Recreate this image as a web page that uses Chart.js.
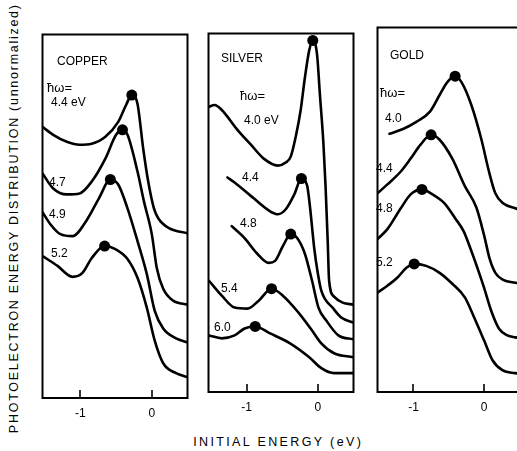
<!DOCTYPE html>
<html><head><meta charset="utf-8">
<script src="https://cdn.jsdelivr.net/npm/chart.js@4.4.1/dist/chart.umd.min.js"></script>
<style>
html,body{margin:0;padding:0;background:#fff;width:517px;height:451px;overflow:hidden;position:relative;font-family:"Liberation Sans",Arial,sans-serif;color:#000}
canvas{position:absolute}
.t{position:absolute;font-size:12px;line-height:14px;white-space:nowrap;color:#000}
.ttl{position:absolute;font-size:12.5px;line-height:14px;white-space:nowrap;color:#000}
</style></head><body>
<script>
// ---------- DATA (initial energy in eV, intensity in arbitrary units) ----------
const xTickValues = [-1, 0];

// COPPER, photon energies 4.4, 4.7, 4.9, 5.2 eV
const cuLabels = ["4.4 eV", "4.7", "4.9", "5.2"];
const cu44 = [[-1.53,273],[-1.38,265],[-1.19,258],[-1.01,255],[-0.84,256],[-0.65,263],[-0.47,278],[-0.36,295],[-0.28,305],[-0.20,296],[-0.12,251],[-0.05,218],[0.03,191],[0.09,181],[0.24,171],[0.50,166]];
const cu47 = [[-1.53,226],[-1.38,211],[-1.19,205],[-1.01,206],[-0.84,218],[-0.65,241],[-0.50,265],[-0.41,270],[-0.34,265],[-0.20,228],[-0.11,198],[0.00,165],[0.07,131],[0.16,110],[0.30,98],[0.50,94]];
const cu49 = [[-1.53,187],[-1.42,175],[-1.28,165],[-1.11,163],[-0.92,178],[-0.74,201],[-0.58,220],[-0.47,215],[-0.34,191],[-0.20,158],[-0.07,125],[0.04,88],[0.16,70],[0.34,60],[0.50,56]];
const cu52 = [[-1.53,143],[-1.32,133],[-1.11,122],[-0.97,126],[-0.84,141],[-0.66,153],[-0.51,150],[-0.34,140],[-0.20,121],[-0.07,91],[0.04,58],[0.16,35],[0.34,25],[0.50,21]];
const cuPeaks = [[-0.28,305],[-0.41,270],[-0.58,220],[-0.66,153]];

// SILVER, photon energies 4.0, 4.4, 4.8, 5.4, 6.0 eV
const agLabels = ["4.0 eV", "4.4", "4.8", "5.4", "6.0"];
const ag40 = [[-1.54,287],[-1.45,289],[-1.35,284],[-1.13,264],[-0.94,249],[-0.76,235],[-0.56,228],[-0.45,231],[-0.38,237],[-0.31,257],[-0.24,284],[-0.18,317],[-0.12,344],[-0.07,354],[-0.01,340],[0.03,300],[0.08,250],[0.11,207],[0.14,152],[0.16,112],[0.23,96],[0.35,90],[0.50,88]];
const ag44 = [[-1.27,216],[-1.17,211],[-0.90,195],[-0.67,182],[-0.56,179],[-0.45,184],[-0.33,199],[-0.23,215],[-0.15,208],[-0.11,187],[-0.05,145],[0.00,120],[0.05,102],[0.22,84],[0.33,75],[0.50,70]];
const ag48 = [[-1.21,167],[-1.03,155],[-0.86,140],[-0.69,130],[-0.60,132],[-0.49,147],[-0.38,159],[-0.29,155],[-0.18,139],[-0.08,112],[0.01,85],[0.12,72],[0.29,57],[0.50,53]];
const ag54 = [[-1.53,112],[-1.35,97],[-1.17,85],[-0.99,84],[-0.83,92],[-0.65,104],[-0.49,97],[-0.26,79],[-0.08,62],[0.05,49],[0.23,39],[0.50,35]];
const ag60 = [[-1.53,57],[-1.35,54],[-1.17,57],[-1.03,64],[-0.88,66],[-0.67,59],[-0.39,49],[-0.12,35],[0.05,24],[0.23,19],[0.50,19]];
const agPeaks = [[-0.07,354],[-0.23,215],[-0.38,159],[-0.65,104],[-0.88,66]];

// GOLD, photon energies 4.0, 4.4, 4.8, 5.2 eV
const auLabels = ["4.0", "4.4", "4.8", "5.2"];
const au40 = [[-1.34,260],[-1.14,265],[-0.96,272],[-0.77,282],[-0.63,299],[-0.52,312],[-0.41,318],[-0.32,312],[-0.18,289],[-0.04,255],[0.07,222],[0.16,200],[0.27,190],[0.44,185],[0.55,183]];
const au44 = [[-1.51,200],[-1.37,209],[-1.18,222],[-1.04,235],[-0.90,249],[-0.75,259],[-0.63,254],[-0.45,235],[-0.27,207],[-0.11,186],[0.00,158],[0.08,134],[0.16,120],[0.27,113],[0.44,110],[0.55,109]];
const au48 = [[-1.51,154],[-1.37,164],[-1.18,185],[-1.04,199],[-0.88,204],[-0.73,199],[-0.56,190],[-0.41,175],[-0.29,162],[-0.18,142],[-0.07,120],[0.00,105],[0.10,82],[0.21,64],[0.33,57],[0.44,55],[0.55,54]];
const au52 = [[-1.51,100],[-1.37,107],[-1.23,115],[-1.10,125],[-0.99,129],[-0.82,127],[-0.63,120],[-0.45,109],[-0.27,95],[-0.14,75],[0.00,52],[0.12,32],[0.26,22],[0.44,19],[0.55,18]];
const auPeaks = [[-0.41,318],[-0.75,259],[-0.88,204],[-0.99,129]];

// ---------- LAYOUT ----------
const INK = '#000';
const panels = [
  {left:40,  top:32, width:150, height:366, xMin:-1.53,  xMax:0.50,  yMax:366, curves:[cu44,cu47,cu49,cu52], peaks:cuPeaks},
  {left:206, top:31, width:150, height:361, xMin:-1.537, xMax:0.503, yMax:361, curves:[ag40,ag44,ag48,ag54,ag60], peaks:agPeaks},
  {left:375, top:25, width:150, height:367, xMin:-1.51,  xMax:0.545, yMax:367, curves:[au40,au44,au48,au52], peaks:auPeaks}
];

const boxPlugin = {
  id: 'box',
  afterDatasetsDraw(chart) {
    const {ctx, chartArea:a, scales:{x}} = chart;
    ctx.save();
    ctx.strokeStyle = INK;
    ctx.lineWidth = 2;
    ctx.strokeRect(a.left, a.top, a.right - a.left, a.bottom - a.top);
    ctx.lineWidth = 1.6;
    xTickValues.forEach(v => {
      const px = Math.round(x.getPixelForValue(v));
      ctx.beginPath(); ctx.moveTo(px, a.bottom); ctx.lineTo(px, a.bottom - 8); ctx.stroke();
    });
    ctx.restore();
  }
};

const PAD = 3, AXIS_H = 36;
panels.forEach(p => {
  const cv = document.createElement('canvas');
  const W = p.width + 2*PAD, H = p.height + PAD + AXIS_H;
  cv.width = W; cv.height = H;
  cv.style.left = (p.left - PAD) + 'px';
  cv.style.top = (p.top - PAD) + 'px';
  cv.style.width = W + 'px'; cv.style.height = H + 'px';
  document.body.appendChild(cv);
  const datasets = p.curves.map(c => ({
    data: c.map(([x,y]) => ({x, y})),
    borderColor: INK, borderWidth: 2.6, pointRadius: 0, fill: false,
    cubicInterpolationMode: 'monotone', borderCapStyle: 'round', borderJoinStyle: 'round'
  }));
  datasets.push({
    data: p.peaks.map(([x,y]) => ({x, y})),
    showLine: false, pointRadius: 5.5, pointBackgroundColor: INK, pointBorderWidth: 0, borderColor: INK
  });
  new Chart(cv, {
    type: 'line',
    data: {datasets},
    plugins: [boxPlugin],
    options: {
      responsive: false, animation: false, devicePixelRatio: 1,
      layout: {padding: {left: PAD, right: PAD, top: PAD, bottom: 0}},
      plugins: {legend: {display: false}, tooltip: {enabled: false}},
      scales: {
        x: {
          type: 'linear', min: p.xMin, max: p.xMax,
          grid: {display: false, drawTicks: false},
          border: {display: false},
          afterBuildTicks: s => { s.ticks = xTickValues.map(v => ({value: v})); },
          afterFit: s => { s.height = AXIS_H; },
          ticks: {
            padding: 8, color: INK, maxRotation: 0, autoSkip: false,
            font: {family: '"Liberation Sans", Arial, sans-serif', size: 12},
            callback: v => String(v)
          }
        },
        y: {type: 'linear', min: 0, max: p.yMax, display: false}
      }
    }
  });
});

// ---------- ANNOTATIONS ----------
const hbar = '\u0127\u03C9=';
const notes = [
  ['COPPER',57,61], [hbar,47,88], [cuLabels[0],51,102], [cuLabels[1],49,182], [cuLabels[2],49,214], [cuLabels[3],51,253],
  ['SILVER',221,58], [hbar,240,96], [agLabels[0],244,120], [agLabels[1],242,177], [agLabels[2],240,223], [agLabels[3],221,288], [agLabels[4],214,327],
  ['GOLD',390,55], [hbar,380,93], [auLabels[0],385,118], [auLabels[1],376,168], [auLabels[2],376,208], [auLabels[3],376,262]
];
notes.forEach(([txt, l, cy]) => {
  const d = document.createElement('div');
  d.className = 't';
  d.textContent = txt;
  if (txt === hbar) d.style.fontSize = '13px';
  d.style.left = l + 'px';
  d.style.top = (cy - 7) + 'px';
  document.body.appendChild(d);
});

function title(txt, cx, cy, target, rotate) {
  const d = document.createElement('div');
  d.className = 'ttl';
  d.textContent = txt;
  document.body.appendChild(d);
  const w0 = d.offsetWidth;
  const ls = (target - w0) / txt.length;
  d.style.letterSpacing = ls + 'px';
  const w = d.offsetWidth - ls, h = d.offsetHeight;
  d.style.left = (cx - w/2) + 'px';
  d.style.top = (cy - h/2) + 'px';
  if (rotate) { d.style.transformOrigin = (w/2) + 'px ' + (h/2) + 'px'; d.style.transform = 'rotate(-90deg)'; }
}
title('PHOTOELECTRON ENERGY DISTRIBUTION (unnormalized)', 14, 219, 430, true);
title('INITIAL ENERGY (eV)', 277, 442, 170, false);
</script>
</body></html>
